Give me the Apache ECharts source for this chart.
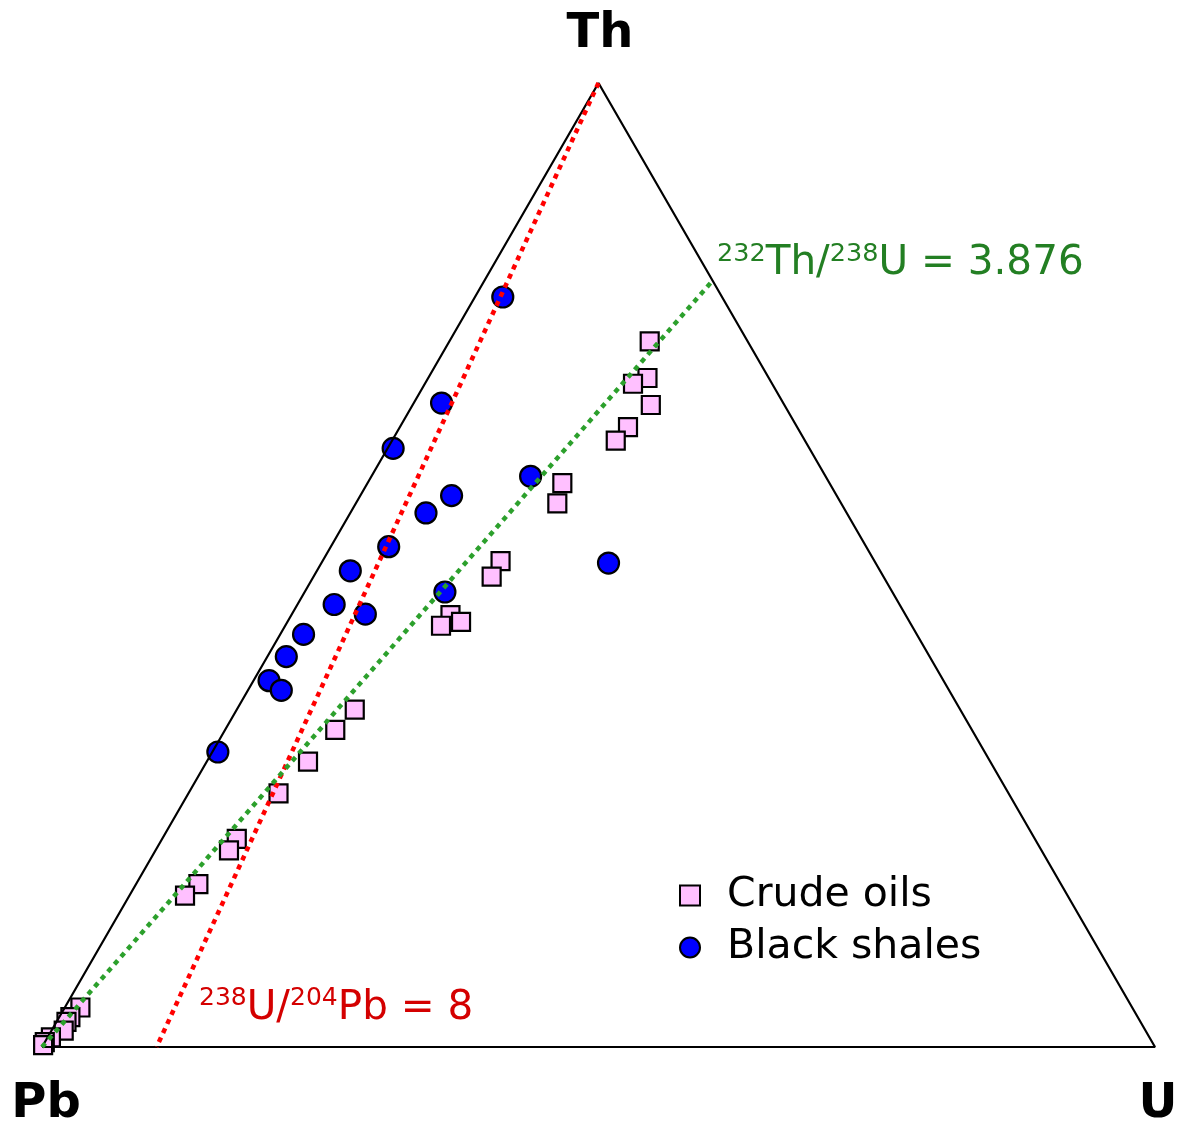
<!DOCTYPE html>
<html>
<head>
<meta charset="utf-8">
<title>Th - U - Pb ternary</title>
<script src="https://cdn.jsdelivr.net/npm/echarts@6/dist/echarts.min.js"></script>
<style>
  html, body { margin: 0; padding: 0; background: #fff; }
  #main { width: 1180px; height: 1121px; }
</style>
</head>
<body>
<div id="main"></div>
<script>
// ternary values in percent (Pb = 100 - Th - U)
const shaleTh = [77.8, 66.8, 62.1, 59.2, 57.2, 55.4, 51.9, 49.4, 50.2, 47.2, 45.9, 44.9, 42.8, 40.5, 38.0, 37.0, 30.6];
const shaleU  = [ 2.5,  2.5,  0.5, 14.3,  8.2,  6.8,  5.2,  3.0, 25.8, 12.6,  3.3,  6.6,  2.1,  1.7,  1.4,  3.0,  0.5];

const oilTh = [73.2, 69.4, 68.8, 66.6, 64.3, 62.9, 58.5, 56.4, 50.4, 48.8, 44.8, 44.1, 43.7, 35.0, 32.9, 29.6,
               26.3, 21.6, 20.4, 16.9, 15.7, 4.1, 3.1, 2.6, 1.7, 1.0, 0.5, 0.2];
const oilU  = [18.0, 19.7, 18.7, 21.4, 20.5, 20.1, 17.5, 18.1, 16.0, 16.0, 14.3, 15.6, 14.0, 10.6,  9.9,  9.1,
                8.1,  6.7,  6.6,  5.6,  5.0, 1.4, 1.0, 0.9, 1.1, 0.3, 0.0, 0.0];

// triangle outline: Pb, U, Th, Pb
const frameTh = [0, 0, 100, 0];
const frameU  = [0, 100, 0, 0];

// reference lines
const uPbTh = [100, 0];     // 238U/204Pb = 8
const uPbU  = [0, 10.3];
const thUTh = [0, 79.5];    // 232Th/238U = 3.876
const thUU  = [0, 20.5];

const H = Math.sqrt(3) / 2;
function toXY(th, u) {
  return [(u + th / 2) / 100, th / 100 * H];
}
function pts(thArr, uArr) {
  return thArr.map((t, i) => toXY(t, uArr[i]));
}

const FONT = 'DejaVu Sans';
let chart = echarts.init(document.getElementById('main'), null, { renderer: 'canvas' });

let option = {
  backgroundColor: '#fff',
  animation: false,
  grid: { left: 42, top: 83, width: 1113, height: 964 },
  xAxis: { type: 'value', min: 0, max: 1, show: false },
  yAxis: { type: 'value', min: 0, max: H, show: false },
  legend: {
    data: ['Crude oils', 'Black shales'],
    orient: 'vertical',
    left: 674,
    top: 870,
    itemWidth: 20,
    itemHeight: 20,
    itemGap: 11,
    textStyle: { fontFamily: FONT, fontSize: 41, color: '#000', padding: [0, 0, 0, 22] }
  },
  series: [
    {
      name: 'Crude oils',
      type: 'scatter',
      symbol: 'rect',
      symbolSize: 18,
      data: pts(oilTh, oilU),
      itemStyle: { color: '#ffc0ff', borderColor: '#000', borderWidth: 2.2, opacity: 1 },
      z: 2
    },
    {
      name: 'Black shales',
      type: 'scatter',
      symbol: 'circle',
      symbolSize: 21,
      data: pts(shaleTh, shaleU),
      itemStyle: { color: '#0000ff', borderColor: '#000', borderWidth: 2.2, opacity: 1 },
      z: 2
    },
    {
      name: 'frame',
      type: 'line',
      data: pts(frameTh, frameU),
      showSymbol: false,
      clip: false,
      lineStyle: { color: '#000', width: 2.2 },
      z: 4
    },
    {
      name: 'uPb',
      type: 'line',
      data: pts(uPbTh, uPbU),
      showSymbol: false,
      clip: false,
      lineStyle: { color: '#ff0000', width: 4.5, type: [5, 5] },
      z: 5
    },
    {
      name: 'thU',
      type: 'line',
      data: pts(thUTh, thUU),
      showSymbol: false,
      clip: false,
      lineStyle: { color: '#2ca02c', width: 4.5, type: [5, 5] },
      z: 5
    }
  ],
  graphic: [
    { type: 'text', x: 600, y: 35, style: { text: 'Th', fontFamily: FONT, fontSize: 48, fontWeight: 'bold', fill: '#000', align: 'center', verticalAlign: 'middle' } },
    { type: 'text', x: 46, y: 1105, style: { text: 'Pb', fontFamily: FONT, fontSize: 48, fontWeight: 'bold', fill: '#000', align: 'center', verticalAlign: 'middle' } },
    { type: 'text', x: 1158, y: 1105, style: { text: 'U', fontFamily: FONT, fontSize: 48, fontWeight: 'bold', fill: '#000', align: 'center', verticalAlign: 'middle' } },
    {
      type: 'text', x: 199, y: 1008,
      style: {
        text: '{s|238}{m|U/}{s|204}{m|Pb = 8}',
        align: 'left', verticalAlign: 'middle',
        rich: {
          m: { fontFamily: FONT, fontSize: 40.5, fill: '#d40000', lineHeight: 44 },
          s: { fontFamily: FONT, fontSize: 25, fill: '#d40000', lineHeight: 25, verticalAlign: 'top' }
        }
      }
    },
    {
      type: 'text', x: 717, y: 263,
      style: {
        text: '{s|232}{m|Th/}{s|238}{m|U = 3.876}',
        align: 'left', verticalAlign: 'middle',
        rich: {
          m: { fontFamily: FONT, fontSize: 40.5, fill: '#237f23', lineHeight: 44 },
          s: { fontFamily: FONT, fontSize: 25.5, fill: '#237f23', lineHeight: 25, verticalAlign: 'top' }
        }
      }
    }
  ]
};
chart.setOption(option);
</script>
</body>
</html>
